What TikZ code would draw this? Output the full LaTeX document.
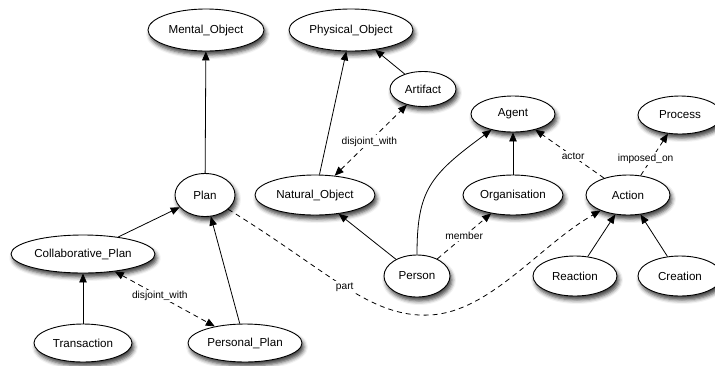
\documentclass[tikz,border=0pt]{standalone}
\usepackage{fontspec}
\setmainfont{Liberation Sans}
\usetikzlibrary{arrows.meta,shapes.geometric,shadows.blur}

\tikzset{
  concept/.style={ellipse, draw, line width=0.9pt, fill=white, inner sep=0pt,
    font=\fontsize{11.6}{13}\selectfont,
    blur shadow={shadow xshift=2pt, shadow yshift=-4pt, shadow blur radius=4pt, shadow opacity=75}},
  tip/.style={-{Triangle[length=9pt,width=7.5pt]}},
  isa/.style={tip, line width=0.8pt},
  rel/.style={tip, line width=0.8pt, dash pattern=on 5pt off 4pt},
  mutual/.style={{Triangle[length=9pt,width=7.5pt]}-{Triangle[length=9pt,width=7.5pt]},
    line width=0.8pt, dash pattern=on 5pt off 4pt},
  lbl/.style={fill=white, inner sep=1.5pt, font=\fontsize{10.2}{12}\selectfont},
}

\begin{document}
\begin{tikzpicture}[x=1pt, y=-1pt]
\useasboundingbox (0,0) rectangle (715,365);

% concepts
\node[concept, minimum width=116pt, minimum height=42pt] (mental)   at (206,30)  {Mental\_Object};
\node[concept, minimum width=124pt, minimum height=42pt] (physical) at (351,30)  {Physical\_Object};
\node[concept, minimum width=66pt,  minimum height=35pt] (artifact) at (423,89)  {Artifact};
\node[concept, minimum width=84pt,  minimum height=36pt] (agent)    at (513,114) {Agent};
\node[concept, minimum width=84pt,  minimum height=38pt] (process)  at (680,115) {Process};
\node[concept, minimum width=60pt,  minimum height=43pt] (plan)     at (205,195) {Plan};
\node[concept, minimum width=120pt, minimum height=40pt] (natural)  at (315,195) {Natural\_Object};
\node[concept, minimum width=100pt, minimum height=40pt] (org)      at (513,195) {Organisation};
\node[concept, minimum width=84pt,  minimum height=40pt] (action)   at (628,195) {Action};
\node[concept, minimum width=144pt, minimum height=38pt] (collab)   at (83,254)  {Collaborative\_Plan};
\node[concept, minimum width=66pt,  minimum height=42pt] (person)   at (417,276) {Person};
\node[concept, minimum width=84pt,  minimum height=40pt] (reaction) at (575,276) {Reaction};
\node[concept, minimum width=84pt,  minimum height=40pt] (creation) at (680,276) {Creation};
\node[concept, minimum width=98pt,  minimum height=38pt] (trans)    at (83,343)  {Transaction};
\node[concept, minimum width=114pt, minimum height=38pt] (personal) at (245,343) {Personal\_Plan};

% subclass links
\draw[isa] (plan) -- (mental);
\draw[isa] (natural) -- (physical);
\draw[isa] (artifact) -- (physical);
\draw[isa] (person) -- (natural);
\draw[isa] (person.north) .. controls (417,190) and (430,175) .. (agent);
\draw[isa] (org) -- (agent);
\draw[isa] (reaction) -- (action);
\draw[isa] (creation) -- (action);
\draw[isa] (collab) -- (plan);
\draw[isa] (personal) -- (plan);
\draw[isa] (trans) -- (collab);

% named relations
\draw[mutual] (natural) -- node[lbl, pos=0.48] {disjoint\_with} (artifact);
\draw[mutual] (collab) -- node[lbl, pos=0.45] {disjoint\_with} (personal);
\draw[rel] (person) -- node[lbl, pos=0.5] {member} (org);
\draw[rel] (action) -- node[lbl, pos=0.45] {actor} (agent);
\draw[rel] (action) -- node[lbl, pos=0.4, xshift=-6pt] {imposed\_on} (process);
\draw[rel] (plan) .. controls (330,272) and (370,318) .. node[lbl, pos=0.5] {part} (430,315)
  .. controls (490,312) and (540,245) .. (action);
\end{tikzpicture}
\end{document}
